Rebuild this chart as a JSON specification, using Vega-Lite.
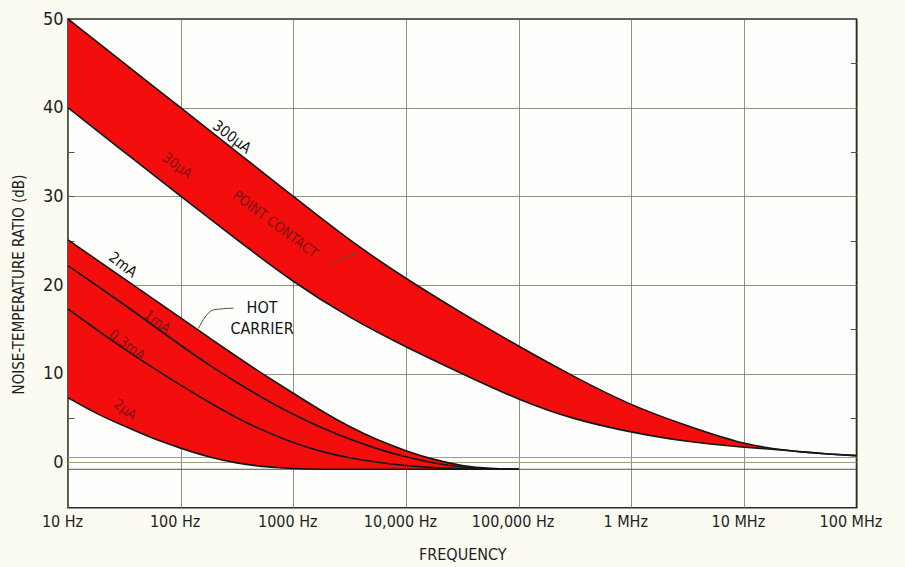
{
  "$schema": "https://vega.github.io/schema/vega-lite/v6.json",
  "width": 788.5,
  "height": 488.7,
  "autosize": {"type": "none"},
  "padding": {"left": 68, "top": 19, "right": 48.5, "bottom": 59.3},
  "background": "#fbfbf2",
  "config": {
    "view": {"fill": "#fefefc", "stroke": "#2b2b2b", "strokeWidth": 1.6},
    "axis": {"labelFont": "Liberation Sans Narrow, DejaVu Sans Condensed, sans-serif", "titleFont": "Liberation Sans Narrow, DejaVu Sans Condensed, sans-serif", "labelColor": "#1e1e1e", "titleColor": "#1e1e1e", "titleFontWeight": "normal"},
    "text": {"font": "Liberation Sans Narrow, DejaVu Sans Condensed, sans-serif"}
  },
  "datasets": {
    "pc": [
      {"f": 10, "upper": 50, "lower": 40},
      {"f": 31.62, "upper": 45, "lower": 35},
      {"f": 100, "upper": 40, "lower": 30},
      {"f": 316.2, "upper": 35, "lower": 25.1},
      {"f": 1000, "upper": 30, "lower": 20.3},
      {"f": 3162, "upper": 25.0, "lower": 16.3},
      {"f": 10000, "upper": 20.7, "lower": 13.0},
      {"f": 31623, "upper": 16.8, "lower": 10.0},
      {"f": 100000, "upper": 13.1, "lower": 7.05},
      {"f": 316228, "upper": 9.6, "lower": 4.8},
      {"f": 1000000, "upper": 6.4, "lower": 3.4},
      {"f": 3162278, "upper": 4.1, "lower": 2.3},
      {"f": 10000000, "upper": 2.0, "lower": 1.7},
      {"f": 22908677, "upper": 1.4, "lower": 1.4},
      {"f": 31622777, "upper": 1.2, "lower": 1.2},
      {"f": 56234133, "upper": 0.95, "lower": 0.95},
      {"f": 100000000, "upper": 0.77, "lower": 0.77}
    ],
    "hc": [
      {"f": 10, "a": 25.1, "b": 22.2, "c": 17.3, "d": 7.3},
      {"f": 17.78, "a": 22.9, "b": 20.0, "c": 15.0, "d": 5.5},
      {"f": 31.62, "a": 20.7, "b": 17.8, "c": 12.8, "d": 4.1},
      {"f": 56.23, "a": 18.5, "b": 15.5, "c": 10.7, "d": 2.7},
      {"f": 100, "a": 16.3, "b": 13.2, "c": 8.7, "d": 1.6},
      {"f": 177.8, "a": 14.1, "b": 11.0, "c": 6.8, "d": 0.6},
      {"f": 316.2, "a": 11.9, "b": 9.0, "c": 5.0, "d": -0.1},
      {"f": 562.3, "a": 9.8, "b": 7.1, "c": 3.5, "d": -0.5},
      {"f": 1000, "a": 7.8, "b": 5.4, "c": 2.2, "d": -0.7},
      {"f": 1778, "a": 5.8, "b": 3.9, "c": 1.2, "d": -0.77},
      {"f": 3162, "a": 4.0, "b": 2.6, "c": 0.5, "d": -0.77},
      {"f": 5623, "a": 2.5, "b": 1.5, "c": 0.0, "d": -0.77},
      {"f": 10000, "a": 1.3, "b": 0.6, "c": -0.35, "d": -0.77},
      {"f": 17783, "a": 0.3, "b": -0.1, "c": -0.6, "d": -0.77},
      {"f": 31623, "a": -0.4, "b": -0.55, "c": -0.72, "d": -0.77},
      {"f": 56234, "a": -0.7, "b": -0.72, "c": -0.76, "d": -0.77},
      {"f": 100000, "a": -0.77, "b": -0.77, "c": -0.77, "d": -0.77}
    ],
    "zero": [
      {"v": 0.55, "kind": "light"},
      {"v": 0, "kind": "light"},
      {"v": -0.77, "kind": "dark"}
    ],
    "leaders": [
      {"grp": "hot", "f": 293.8, "db": 17.4},
      {"grp": "hot", "f": 195, "db": 17.2},
      {"grp": "hot", "f": 164.8, "db": 16.4},
      {"grp": "hot", "f": 143.5, "db": 15.1},
      {"grp": "pc", "f": 1995, "db": 22.15},
      {"grp": "pc", "f": 2710, "db": 23.0},
      {"grp": "pc", "f": 3758, "db": 23.6}
    ],
    "blackLabels": [
      {"f": 285.8, "db": 36.7, "text": "300μA"},
      {"f": 30.8, "db": 22.3, "text": "2mA"}
    ],
    "bandLabels": [
      {"f": 92.9, "db": 33.4, "text": "30μA"},
      {"f": 689, "db": 26.8, "text": "POINT CONTACT"},
      {"f": 61.7, "db": 15.8, "text": "1mA"},
      {"f": 33.4, "db": 13.2, "text": "0.3mA"},
      {"f": 32.1, "db": 5.9, "text": "2μA"}
    ],
    "flatLabels": [
      {"f": 528, "db": 17.4, "text": "HOT"},
      {"f": 528, "db": 15.1, "text": "CARRIER"}
    ]
  },
  "resolve": {"axis": {"y": "independent"}},
  "layer": [
    {
      "data": {"name": "zero"},
      "mark": {"type": "rule", "strokeWidth": 1},
      "encoding": {
        "y": {"field": "v", "type": "quantitative", "scale": {"domain": [-5.1, 50], "nice": false, "zero": false},
          "axis": {"orient": "right", "values": [5, 15, 25, 35, 45], "labels": false, "ticks": true, "tickSize": -6, "tickColor": "#555", "domain": false, "grid": false, "title": null}},
        "color": {"field": "kind", "type": "nominal", "scale": {"domain": ["light", "dark"], "range": ["#9a9a80", "#555548"]}, "legend": null}
      }
    },
    {
      "data": {"name": "pc"},
      "mark": {"type": "area", "interpolate": "basis", "color": "#f40d0d", "opacity": 1},
      "encoding": {
        "x": {"field": "f", "type": "quantitative", "scale": {"type": "log", "domain": [10, 100000000], "nice": false},
          "axis": {"values": [10, 100, 1000, 10000, 100000, 1000000, 10000000, 100000000],
            "labelExpr": "['10 Hz','100 Hz','1000 Hz','10,000 Hz','100,000 Hz','1 MHz','10 MHz','100 MHz'][round(log(datum.value)/LN10)-1]",
            "labelFontSize": 16, "labelPadding": 6, "labelOffset": -6, "labelFlush": false, "labelOverlap": false, "labelBound": false,
            "ticks": false, "domain": false, "grid": true, "gridColor": "#6f6f55", "gridOpacity": 0.75, "gridWidth": 1,
            "title": "FREQUENCY", "titleFontSize": 16, "titleY": 47, "titleBaseline": "middle"}},
        "y": {"field": "lower", "type": "quantitative", "scale": {"domain": [-5.1, 50], "nice": false, "zero": false},
          "axis": {"orient": "left", "values": [0, 5, 10, 15, 20, 25, 30, 35, 40, 45, 50],
            "labelExpr": "datum.value % 10 === 0 ? datum.label : ''",
            "labelFontSize": 18, "labelPadding": 11, "ticks": true, "tickSize": -6, "tickColor": "#555", "domain": false,
            "grid": true, "gridColor": "#6f6f55", "gridWidth": 1,
            "gridOpacity": {"condition": {"test": "datum.value % 10 === 0 && datum.value > 0 && datum.value < 50", "value": 0.75}, "value": 0},
            "title": "NOISE-TEMPERATURE RATIO (dB)", "titleFontSize": 15, "titleX": -50, "titleY": 265, "titleAngle": -90, "titleAlign": "center", "titleBaseline": "middle"}},
        "y2": {"field": "upper"}
      }
    },
    {
      "data": {"name": "hc"},
      "mark": {"type": "area", "interpolate": "basis", "color": "#f40d0d", "opacity": 1},
      "encoding": {
        "x": {"field": "f", "type": "quantitative", "scale": {"type": "log", "domain": [10, 100000000], "nice": false}},
        "y": {"field": "d", "type": "quantitative", "scale": {"domain": [-5.1, 50], "nice": false, "zero": false}, "axis": null},
        "y2": {"field": "a"}
      }
    },
    {
      "data": {"name": "pc"},
      "transform": [{"fold": ["upper", "lower"], "as": ["curve", "db"]}],
      "mark": {"type": "line", "interpolate": "basis", "color": "#151515", "strokeWidth": 1.6},
      "encoding": {
        "x": {"field": "f", "type": "quantitative", "scale": {"type": "log", "domain": [10, 100000000], "nice": false}},
        "y": {"field": "db", "type": "quantitative", "scale": {"domain": [-5.1, 50], "nice": false, "zero": false}, "axis": null},
        "detail": {"field": "curve"}
      }
    },
    {
      "data": {"name": "hc"},
      "transform": [{"fold": ["a", "b", "c", "d"], "as": ["curve", "db"]}],
      "mark": {"type": "line", "interpolate": "basis", "color": "#151515", "strokeWidth": 1.6},
      "encoding": {
        "x": {"field": "f", "type": "quantitative", "scale": {"type": "log", "domain": [10, 100000000], "nice": false}},
        "y": {"field": "db", "type": "quantitative", "scale": {"domain": [-5.1, 50], "nice": false, "zero": false}, "axis": null},
        "detail": {"field": "curve"}
      }
    },
    {
      "data": {"name": "leaders"},
      "mark": {"type": "line", "interpolate": "monotone", "color": "#5e5035", "strokeWidth": 1},
      "encoding": {
        "x": {"field": "f", "type": "quantitative", "scale": {"type": "log", "domain": [10, 100000000], "nice": false}},
        "y": {"field": "db", "type": "quantitative", "scale": {"domain": [-5.1, 50], "nice": false, "zero": false}, "axis": null},
        "detail": {"field": "grp"}
      }
    },
    {
      "data": {"name": "blackLabels"},
      "mark": {"type": "text", "angle": 37, "fontSize": 15, "color": "#151515", "align": "center", "baseline": "middle"},
      "encoding": {
        "x": {"field": "f", "type": "quantitative", "scale": {"type": "log", "domain": [10, 100000000], "nice": false}},
        "y": {"field": "db", "type": "quantitative", "scale": {"domain": [-5.1, 50], "nice": false, "zero": false}, "axis": null},
        "text": {"field": "text"}
      }
    },
    {
      "data": {"name": "bandLabels"},
      "mark": {"type": "text", "angle": 37, "fontSize": 14, "color": "#7a1212", "align": "center", "baseline": "middle"},
      "encoding": {
        "x": {"field": "f", "type": "quantitative", "scale": {"type": "log", "domain": [10, 100000000], "nice": false}},
        "y": {"field": "db", "type": "quantitative", "scale": {"domain": [-5.1, 50], "nice": false, "zero": false}, "axis": null},
        "text": {"field": "text"}
      }
    },
    {
      "data": {"name": "flatLabels"},
      "mark": {"type": "text", "fontSize": 16, "color": "#151515", "align": "center", "baseline": "middle"},
      "encoding": {
        "x": {"field": "f", "type": "quantitative", "scale": {"type": "log", "domain": [10, 100000000], "nice": false}},
        "y": {"field": "db", "type": "quantitative", "scale": {"domain": [-5.1, 50], "nice": false, "zero": false}, "axis": null},
        "text": {"field": "text"}
      }
    }
  ]
}
